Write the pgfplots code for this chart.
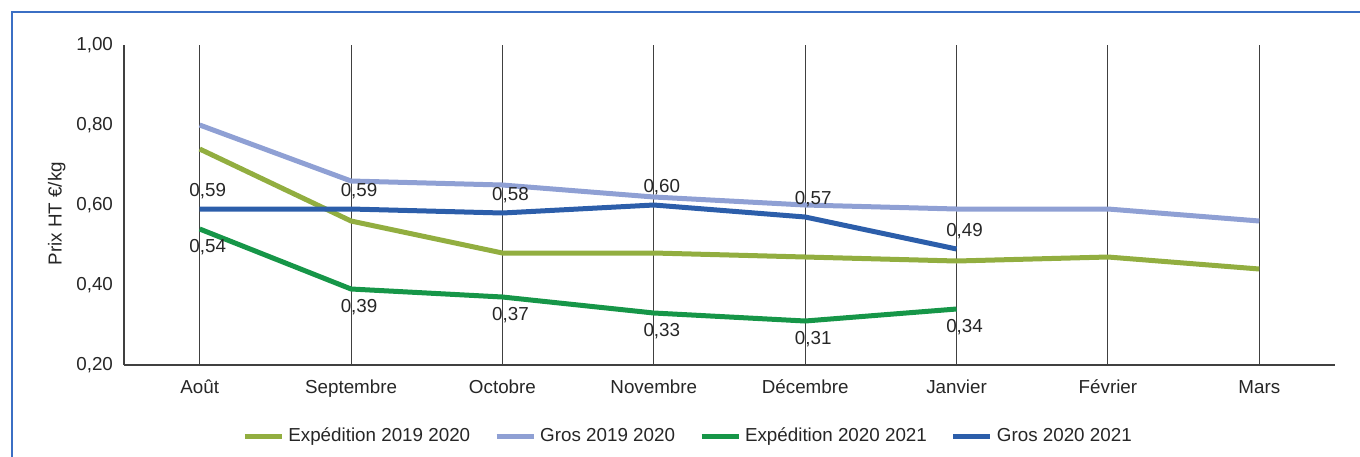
\documentclass[border=0pt]{standalone}
\usepackage{fontspec}
\setmainfont{Liberation Sans}
\usepackage{pgfplots}
\pgfplotsset{compat=1.18}

\definecolor{expA}{RGB}{146,174,64}
\definecolor{grosA}{RGB}{143,160,212}
\definecolor{expB}{RGB}{22,150,72}
\definecolor{grosB}{RGB}{44,94,170}
\definecolor{frame}{RGB}{59,111,196}
\definecolor{gridc}{RGB}{64,64,64}
\definecolor{txt}{RGB}{38,38,38}

\pgfplotsset{
    lbl/.style={nodes near coords, point meta=y,
        every node near coord/.append style={anchor=center, yshift=#1, xshift=4pt, text=txt,
            font=\fontsize{9.4}{11}\selectfont,
            /pgf/number format/fixed, /pgf/number format/fixed zerofill,
            /pgf/number format/precision=2, /pgf/number format/use comma,
            /pgf/number format/assume math mode=true}},
}

\begin{document}
\begin{tikzpicture}[x=1pt,y=1pt]
\useasboundingbox (0,0) rectangle (680,-228);
\draw[frame, line width=0.7pt] (6,-240) -- (6,-6) -- (700,-6);
\begin{axis}[
    at={(62pt,-182.5pt)}, anchor=south west,
    scale only axis,
    width=605.5pt, height=160pt,
    xmin=-0.5, xmax=7.5,
    ymin=0.2, ymax=1.0,
    xtick={0,...,7},
    xticklabels={Août,Septembre,Octobre,Novembre,Décembre,Janvier,Février,Mars},
    ytick={0.2,0.4,0.6,0.8,1.0},
    yticklabel style={/pgf/number format/fixed, /pgf/number format/fixed zerofill,
        /pgf/number format/precision=2, /pgf/number format/use comma,
        /pgf/number format/assume math mode=true, /tikz/xshift=-2pt},
    ticklabel style={font=\fontsize{9.4}{11}\selectfont, text=txt},
    xticklabel style={yshift=-4pt},
    major tick length=0pt,
    axis x line=bottom, axis y line=left,
    axis line style={-, gridc, line width=0.6pt},
    xmajorgrids, grid style={gridc, line width=0.5pt},
    ylabel={Prix HT €/kg},
    ylabel style={at={(axis description cs:-0.0555,0.473)}, anchor=center, font=\fontsize{9.4}{11}\selectfont, text=txt},
    legend columns=4,
    legend style={at={(axis description cs:0.4666,-0.222)}, anchor=center, draw=none, fill=none,
        font=\fontsize{9.4}{11}\selectfont, text=txt,
        /tikz/every even column/.append style={column sep=10pt}},
    legend image code/.code={\draw[#1, line width=2.5pt] (0pt,0pt) -- (18.5pt,0pt);},
    every axis plot/.append style={line width=2.5pt, mark=none, line join=round},
    clip=false,
]
\addplot[expA] coordinates {(0,0.74) (1,0.56) (2,0.48) (3,0.48) (4,0.47) (5,0.46) (6,0.47) (7,0.44)};
\addlegendentry{Expédition 2019 2020}
\addplot[grosA] coordinates {(0,0.80) (1,0.66) (2,0.65) (3,0.62) (4,0.60) (5,0.59) (6,0.59) (7,0.56)};
\addlegendentry{Gros 2019 2020}
\addplot[expB, lbl=-9pt] coordinates {(0,0.54) (1,0.39) (2,0.37) (3,0.33) (4,0.31) (5,0.34)};
\addlegendentry{Expédition 2020 2021}
\addplot[grosB, lbl=8.75pt] coordinates {(0,0.59) (1,0.59) (2,0.58) (3,0.60) (4,0.57) (5,0.49)};
\addlegendentry{Gros 2020 2021}
\end{axis}
\end{tikzpicture}
\end{document}
